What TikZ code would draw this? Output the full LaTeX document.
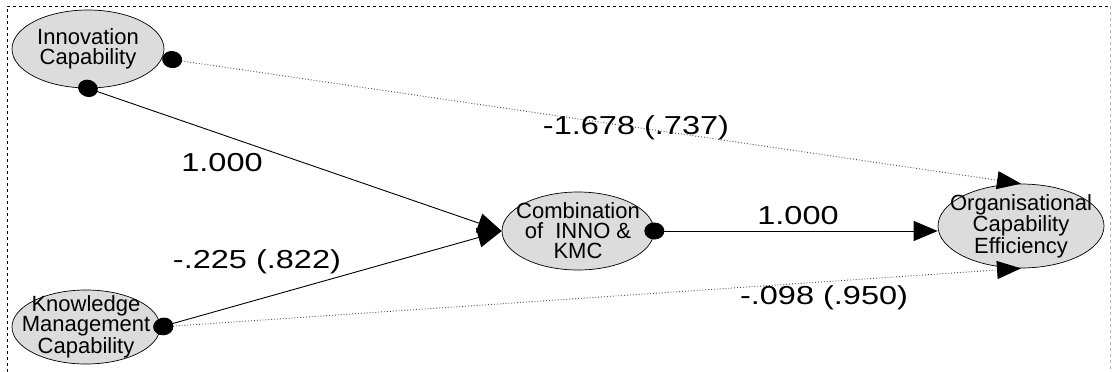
\documentclass[tikz,border=0pt]{standalone}
\usepackage{fontspec}
\setmainfont{Liberation Sans}
\newfontfamily\coeffont[FakeStretch=1.25]{Liberation Sans}
\usetikzlibrary{shapes.geometric,arrows.meta}
\definecolor{latentgray}{HTML}{DCDCDC}
\tikzset{
  latent/.style={ellipse, draw, fill=latentgray, inner sep=0pt, line width=0.7pt},
  lattext/.style={align=center, inner sep=0pt, font=\fontsize{22}{20}\selectfont},
  coef/.style={font=\coeffont\fontsize{26}{28}\selectfont},
  solidpath/.style={{Circle[length=20pt,width=17pt]}-{Triangle[length=24pt,width=20pt]}, line width=0.9pt},
  freepath/.style={{Circle[length=20pt,width=17pt,color=black]}-{Triangle[length=24pt,width=18pt,color=black]}, dotted, line width=0.9pt, black!70}
}
\begin{document}
\begin{tikzpicture}[x=1pt,y=-1pt]
	\useasboundingbox (0,0) rectangle (1112,372);
	% frame
	\draw[dashed, line width=0.8pt] (7,372) -- (7,6) -- (1110,6);
	\draw[dashed, black!30, line width=0.8pt] (1110,6) -- (1110,372);

	% latent variables
	\node[latent, minimum width=152pt, minimum height=78pt,
		label={[lattext]center:{Innovation\\Capability}}] (inno) at (88,49) {};
	\node[latent, minimum width=148pt, minimum height=74pt,
		label={[lattext]center:{Knowledge\\Management\\Capability}}] (kmc) at (86,327) {};
	\node[latent, minimum width=152pt, minimum height=78pt,
		label={[lattext]center:{Combination\\of~~INNO \&\\KMC}}] (comb) at (578,231) {};
	\node[latent, minimum width=166pt, minimum height=84pt,
		label={[lattext]center:{Organisational\\Capability\\Efficiency}}] (org) at (1021,226) {};

	% paths
	\draw[solidpath, shorten <=-10pt] (inno.south) -- (comb.west);
	\draw[solidpath, shorten <=-7pt] (kmc.east) -- (comb.west);
	\draw[solidpath, shorten <=-10pt] (comb.east) -- (org.west |- comb.east);
	\draw[freepath] (inno.-7) -- (org.north);
	\draw[freepath, shorten <=-7pt] (kmc.east) -- (org.south);

	% coefficients
	\node[coef] (c1) at (222,163) {1.000};
	\node[coef] (c2) at (257,262) {-.225 (.822)};
	\node[coef] (c3) at (798,216) {1.000};
	\node[coef] (c4) at (636,128) {-1.678 (.737)};
	\node[coef] (c5) at (824,298) {-.098 (.950)};
\end{tikzpicture}
\end{document}
